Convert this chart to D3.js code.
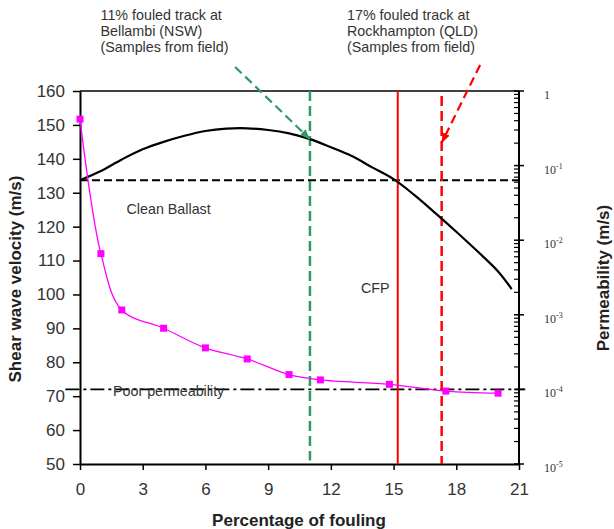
<!DOCTYPE html>
<html>
<head>
<meta charset="utf-8">
<script src="https://cdn.jsdelivr.net/npm/d3@7"></script>
<style>
  body { margin: 0; background: #fff; }
  text { font-family: "Liberation Sans", Arial, sans-serif; }
</style>
</head>
<body>
<svg id="chart" width="614" height="529"></svg>
<script>
// Permeability (m/s) against percentage of fouling
const permX = [0, 1, 2, 4, 6, 8, 10, 11.5, 14.8, 17.5, 20];
const permK = [0.42, 6.6e-3, 1.16e-3, 6.6e-4, 3.6e-4, 2.56e-4, 1.58e-4, 1.34e-4, 1.17e-4, 9.5e-5, 8.9e-5];

// Shear wave velocity (m/s) against percentage of fouling
const velX = [0, 1, 2, 3, 4, 5, 6, 7, 8, 9, 10, 11, 12, 13, 14, 15, 16, 17, 18, 19, 20, 20.65];
const velV = [133.7, 136.4, 139.8, 142.8, 145.0, 146.8, 148.2, 148.9, 149.0, 148.5, 147.5, 145.8,
              143.4, 140.8, 137.4, 134.0, 129.3, 124.0, 118.5, 112.8, 106.8, 101.6];

// Axis ticks
const xTicks = [0, 3, 6, 9, 12, 15, 18, 21];
const yLeftTicks = [50, 60, 70, 80, 90, 100, 110, 120, 130, 140, 150, 160];
const yRightTicks = [1, 1e-1, 1e-2, 1e-3, 1e-4, 1e-5];
const yRightExp = ["", "-1", "-2", "-3", "-4", "-5"];

// Reference levels
const cleanBallastV = 133.7;   // shear wave velocity of clean ballast
const poorPermK = 1e-4;        // poor permeability threshold
const cfpX = 15.2;             // critical fouling point
const bellambiX = 11;          // Bellambi field samples
const rockhamptonX = 17.3;     // Rockhampton field samples

const svg = d3.select("#chart");

const x = d3.scaleLinear([0, 21], [80, 519]);
const yL = d3.scaleLinear([50, 160], [464, 91]);
const yR = d3.scaleLog([1e-5, 1], [464, 91]);

// Arrow heads
const defs = svg.append("defs");
function arrowMarker(id, color) {
  defs.append("marker")
    .attr("id", id)
    .attr("viewBox", "0 0 10 8")
    .attr("refX", 10).attr("refY", 4)
    .attr("markerWidth", 10).attr("markerHeight", 8)
    .attr("markerUnits", "userSpaceOnUse")
    .attr("orient", "auto")
    .append("path").attr("d", "M0,0L10,4L0,8Z").attr("fill", color);
}
arrowMarker("arrGreen", "#2f9a62");
arrowMarker("arrRed", "#ff0000");

// Left axis: shear wave velocity
const gL = svg.append("g").attr("transform", `translate(${x(0)},0)`)
  .call(d3.axisLeft(yL).tickValues(yLeftTicks).tickSize(7).tickPadding(8).tickSizeOuter(0));
gL.select(".domain").attr("stroke-width", 2);
gL.selectAll(".tick line").attr("stroke-width", 1.5);
gL.selectAll(".tick text").attr("font-size", 17).attr("fill", "#333")
  .attr("font-family", "Liberation Sans, Arial, sans-serif");

// Bottom axis: percentage of fouling
const gB = svg.append("g").attr("transform", `translate(0,${yL(50)})`)
  .call(d3.axisBottom(x).tickValues(xTicks).tickSize(6).tickPadding(13).tickSizeOuter(0));
gB.select(".domain").attr("stroke-width", 2);
gB.selectAll(".tick line").attr("stroke-width", 1.5);
gB.selectAll(".tick text").attr("font-size", 17).attr("fill", "#333")
  .attr("font-family", "Liberation Sans, Arial, sans-serif");

// Top frame line
svg.append("line")
  .attr("x1", x(0)).attr("x2", x(21))
  .attr("y1", yL(160)).attr("y2", yL(160))
  .attr("stroke", "#000").attr("stroke-width", 1.5);

// Right axis: permeability (log)
const xr = x(21);
const gR = svg.append("g");
gR.append("line").attr("x1", xr).attr("x2", xr)
  .attr("y1", yR(1)).attr("y2", yR(1e-5))
  .attr("stroke", "#000").attr("stroke-width", 2);
const minor = yR.ticks().filter(v => !yRightTicks.some(t => Math.abs(v / t - 1) < 1e-9));
gR.selectAll("line.minor").data(minor).join("line")
  .attr("class", "minor")
  .attr("x1", xr - 5).attr("x2", xr)
  .attr("y1", d => yR(d)).attr("y2", d => yR(d))
  .attr("stroke", "#000").attr("stroke-width", 1.2);
gR.selectAll("line.major").data(yRightTicks).join("line")
  .attr("class", "major")
  .attr("x1", xr - 5).attr("x2", xr + 5)
  .attr("y1", d => yR(d)).attr("y2", d => yR(d))
  .attr("stroke", "#000").attr("stroke-width", 1.5);
const rLab = gR.selectAll("text.rl").data(yRightTicks).join("text")
  .attr("class", "rl")
  .attr("x", xr + 25)
  .attr("y", d => yR(d) + 8)
  .attr("fill", "#333")
  .style("font-family", "Liberation Serif, Times New Roman, serif")
  .attr("font-size", 12);
rLab.each(function(d, i) {
  const t = d3.select(this);
  if (yRightExp[i] === "") {
    t.append("tspan").text("1");
  } else {
    t.append("tspan").text("10");
    t.append("tspan").attr("dy", -5).attr("font-size", 8).text(yRightExp[i]);
  }
});

// Clean ballast velocity level
svg.append("line")
  .attr("x1", x(0)).attr("x2", x(21))
  .attr("y1", yL(cleanBallastV)).attr("y2", yL(cleanBallastV))
  .attr("stroke", "#000").attr("stroke-width", 2)
  .attr("stroke-dasharray", "8,4");

// Poor permeability level
svg.append("line")
  .attr("x1", x(-0.7)).attr("x2", x(21.3))
  .attr("y1", yR(poorPermK)).attr("y2", yR(poorPermK))
  .attr("stroke", "#000").attr("stroke-width", 1.8)
  .attr("stroke-dasharray", "14,4,3,4");

// Field sample and CFP verticals
svg.append("line")
  .attr("x1", x(bellambiX)).attr("x2", x(bellambiX))
  .attr("y1", yL(160)).attr("y2", yL(51))
  .attr("stroke", "#2f9a62").attr("stroke-width", 2.5)
  .attr("stroke-dasharray", "10,5");
svg.append("line")
  .attr("x1", x(cfpX)).attr("x2", x(cfpX))
  .attr("y1", yL(160)).attr("y2", yL(50))
  .attr("stroke", "#ff0000").attr("stroke-width", 2);
svg.append("line")
  .attr("x1", x(rockhamptonX)).attr("x2", x(rockhamptonX))
  .attr("y1", yL(158.5)).attr("y2", yL(50))
  .attr("stroke", "#ff0000").attr("stroke-width", 2.5)
  .attr("stroke-dasharray", "10,5");

// Shear wave velocity curve
svg.append("path")
  .datum(velX.map((v, i) => [v, velV[i]]))
  .attr("fill", "none").attr("stroke", "#000").attr("stroke-width", 2.2)
  .attr("d", d3.line().x(d => x(d[0])).y(d => yL(d[1])).curve(d3.curveCatmullRom));

// Permeability curve with markers
const permData = permX.map((v, i) => [v, permK[i]]);
svg.append("path")
  .datum(permData)
  .attr("fill", "none").attr("stroke", "#ff00ff").attr("stroke-width", 1.3)
  .attr("d", d3.line().x(d => x(d[0])).y(d => yR(d[1])).curve(d3.curveCatmullRom.alpha(0.5)));
svg.selectAll("rect.pt").data(permData).join("rect")
  .attr("class", "pt")
  .attr("x", d => x(d[0]) - 3.5).attr("y", d => yR(d[1]) - 3.5)
  .attr("width", 7).attr("height", 7)
  .attr("fill", "#ff00ff");

// Pointer arrows to the field samples
svg.append("line")
  .attr("x1", x(7.42)).attr("y1", yL(167.1))
  .attr("x2", x(bellambiX)).attr("y2", yL(145.8))
  .attr("stroke", "#2f9a62").attr("stroke-width", 2.2)
  .attr("stroke-dasharray", "9,5")
  .attr("marker-end", "url(#arrGreen)");
svg.append("line")
  .attr("x1", x(19.14)).attr("y1", yL(167.7))
  .attr("x2", x(rockhamptonX)).attr("y2", yL(144.7))
  .attr("stroke", "#ff0000").attr("stroke-width", 2.2)
  .attr("stroke-dasharray", "9,5")
  .attr("marker-end", "url(#arrRed)");

// Annotation texts
const noteBellambi = ["11% fouled track at", "Bellambi (NSW)", "(Samples from field)"];
const noteRock = ["17% fouled track at", "Rockhampton (QLD)", "(Samples from field)"];
function note(lines, px, py) {
  svg.append("g").selectAll("text").data(lines).join("text")
    .attr("x", px).attr("y", (d, i) => py + i * 15.8)
    .attr("font-size", 14.3).attr("fill", "#333").text(d => d);
}
note(noteBellambi, 100.5, 20);
note(noteRock, 347, 20);

svg.append("text").attr("x", 126.5).attr("y", 214).attr("font-size", 14.3).attr("fill", "#333").text("Clean Ballast");
svg.append("text").attr("x", 361).attr("y", 292.5).attr("font-size", 14.3).attr("fill", "#333").text("CFP");
svg.append("text").attr("x", 113).attr("y", 396).attr("font-size", 14.3).attr("fill", "#333").text("Poor permeability");

// Axis titles
svg.append("text")
  .attr("transform", `translate(21,279) rotate(-90)`)
  .attr("text-anchor", "middle").attr("font-size", 17).attr("font-weight", "bold").attr("fill", "#222")
  .text("Shear wave velocity (m/s)");
svg.append("text")
  .attr("transform", `translate(609,278) rotate(-90)`)
  .attr("text-anchor", "middle").attr("font-size", 17).attr("font-weight", "bold").attr("fill", "#222")
  .text("Permeability (m/s)");
svg.append("text")
  .attr("x", 299).attr("y", 525.5)
  .attr("text-anchor", "middle").attr("font-size", 17).attr("font-weight", "bold").attr("fill", "#222")
  .text("Percentage of fouling");
</script>
</body>
</html>
